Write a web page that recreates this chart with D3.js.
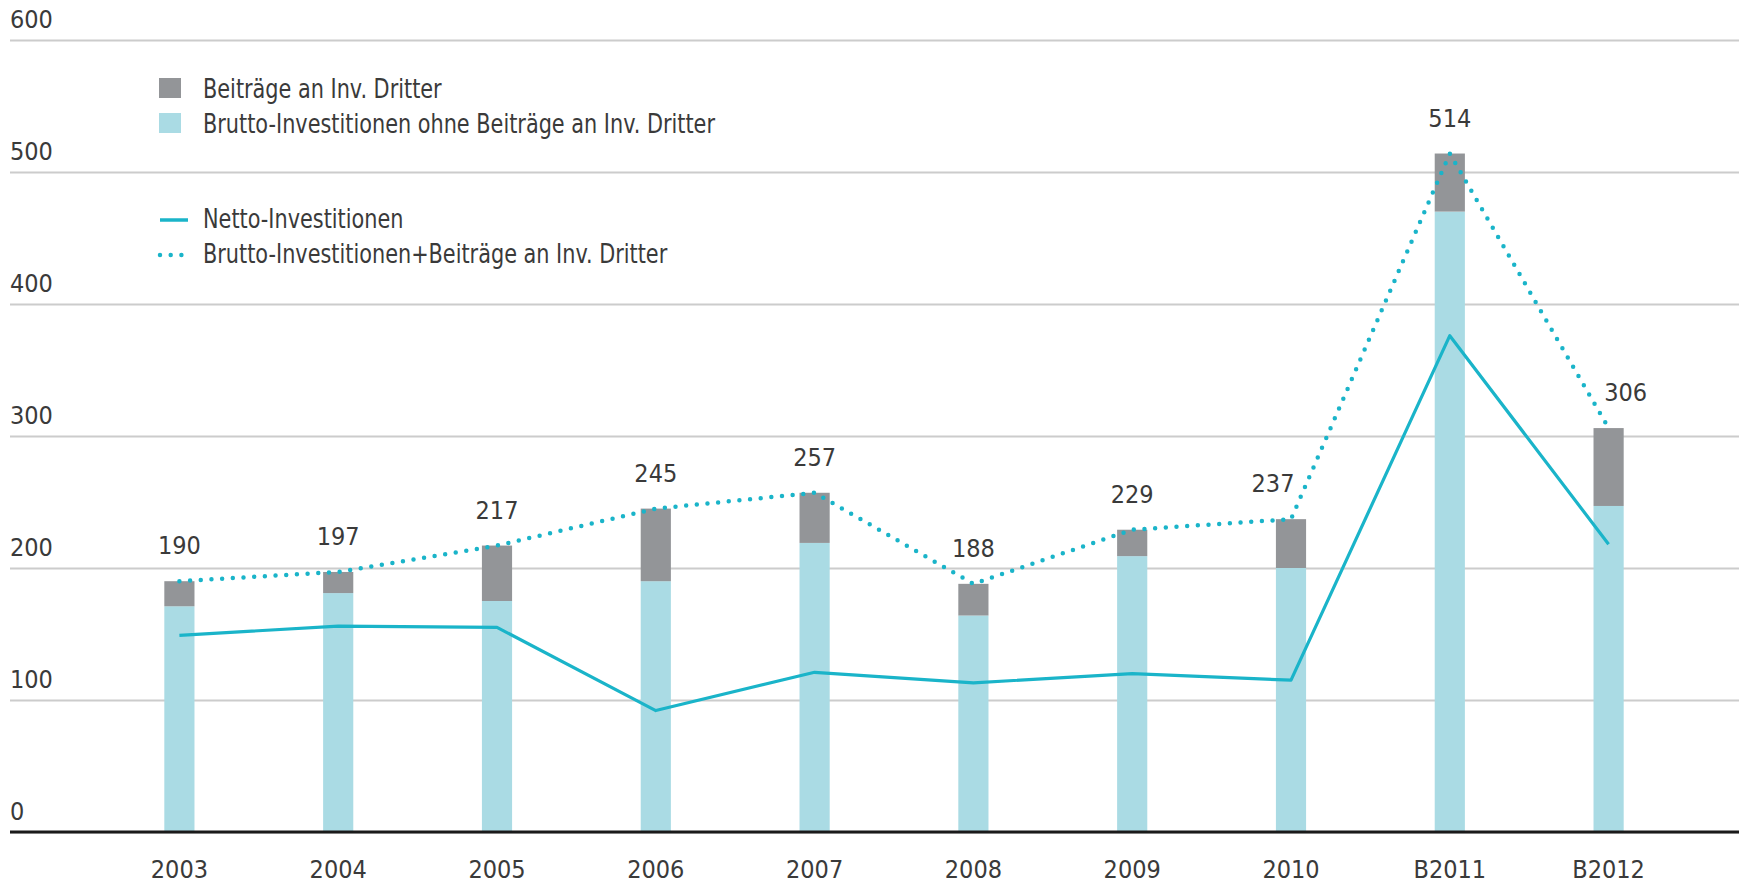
<!DOCTYPE html>
<html>
<head>
<meta charset="utf-8">
<script src="https://cdn.jsdelivr.net/npm/d3@7"></script>
<style>
  body { margin: 0; background: #fff; }
  svg { display: block; }
  text { font-family: "DejaVu Sans Condensed", "Liberation Sans Narrow", "Liberation Sans", sans-serif; fill: #3a3a3a; }
</style>
</head>
<body>
<div id="chart"></div>
<script>
const F_WIDTH = 1743;
const F_HEIGHT = 883;

// data
const YEARS = ["2003", "2004", "2005", "2006", "2007", "2008", "2009", "2010", "B2011", "B2012"];
const TOTALS = [190, 197, 217, 245, 257, 188, 229, 237, 514, 306];
const BRUTTO_OHNE = [171, 181, 175, 190, 219, 164, 209, 200, 470, 247];
const NETTO = [149, 156, 155, 92, 121, 113, 120, 115, 376, 218];
const Y_TICKS = [0, 100, 200, 300, 400, 500, 600];

const LEGEND_BARS = ["Beiträge an Inv. Dritter", "Brutto-Investitionen ohne Beiträge an Inv. Dritter"];
const LEGEND_LINES = ["Netto-Investitionen", "Brutto-Investitionen+Beiträge an Inv. Dritter"];

const C_GREY = "#939598";
const C_LIGHT = "#aadbe4";
const C_LINE = "#1ab4c9";

const FRAME = d3.select("#chart")
  .append("svg")
    .attr("width", F_WIDTH)
    .attr("height", F_HEIGHT);

const X_SCALE = d3.scaleBand()
  .domain(YEARS)
  .range([100, 1688])
  .paddingInner(0.81)
  .paddingOuter(0.405);

const Y_SCALE = d3.scaleLinear()
  .domain([0, 600])
  .range([832, 40]);

const cx = (d) => X_SCALE(d) + X_SCALE.bandwidth() / 2;

// gridlines + y labels
const yAxis = FRAME.append("g")
  .attr("transform", "translate(10,0)")
  .call(d3.axisRight(Y_SCALE).tickValues(Y_TICKS).tickSize(1729).tickFormat(d3.format("d")));
yAxis.select(".domain").remove();
yAxis.selectAll(".tick line")
  .attr("stroke", "#cccccc")
  .attr("stroke-width", 2);
yAxis.selectAll(".tick text")
  .attr("x", 0)
  .attr("y", -13)
  .attr("dy", 0)
  .attr("text-anchor", "start")
  .attr("font-size", 25)
  .attr("font-family", null);

const data = YEARS.map((y, i) => ({year: y, total: TOTALS[i], brutto: BRUTTO_OHNE[i], netto: NETTO[i]}));

// stacked bars
FRAME.selectAll(".bar-light")
  .data(data)
  .enter()
  .append("rect")
    .attr("x", (d) => X_SCALE(d.year))
    .attr("y", (d) => Y_SCALE(d.brutto))
    .attr("width", X_SCALE.bandwidth())
    .attr("height", (d) => Y_SCALE(0) - Y_SCALE(d.brutto))
    .attr("fill", C_LIGHT);

FRAME.selectAll(".bar-grey")
  .data(data)
  .enter()
  .append("rect")
    .attr("x", (d) => X_SCALE(d.year))
    .attr("y", (d) => Y_SCALE(d.total))
    .attr("width", X_SCALE.bandwidth())
    .attr("height", (d) => Y_SCALE(d.brutto) - Y_SCALE(d.total))
    .attr("fill", C_GREY);

// baseline
FRAME.append("line")
  .attr("x1", 10).attr("x2", 1739)
  .attr("y1", Y_SCALE(0)).attr("y2", Y_SCALE(0))
  .attr("stroke", "#1a1a1a")
  .attr("stroke-width", 3);

// x axis labels
const xAxis = FRAME.append("g")
  .attr("transform", "translate(0," + Y_SCALE(0) + ")")
  .call(d3.axisBottom(X_SCALE).tickSize(0));
xAxis.select(".domain").remove();
xAxis.selectAll(".tick text")
  .attr("y", 46)
  .attr("dy", 0)
  .attr("font-size", 25)
  .attr("font-family", null);

// netto line
FRAME.append("path")
  .datum(data)
  .attr("fill", "none")
  .attr("stroke", C_LINE)
  .attr("stroke-width", 3.2)
  .attr("stroke-linejoin", "round")
  .attr("d", d3.line().x((d) => cx(d.year)).y((d) => Y_SCALE(d.netto)));

// total dotted line
FRAME.append("path")
  .datum(data)
  .attr("fill", "none")
  .attr("stroke", C_LINE)
  .attr("stroke-width", 4.5)
  .attr("stroke-linecap", "round")
  .attr("stroke-dasharray", "0 10.7")
  .attr("d", d3.line().x((d) => cx(d.year)).y((d) => Y_SCALE(d.total)));

// value labels
FRAME.selectAll(".val")
  .data(data)
  .enter()
  .append("text")
    .attr("x", (d) => cx(d.year) + (d.year === "2010" ? -18 : d.year === "B2012" ? 17 : 0))
    .attr("y", (d) => Y_SCALE(d.total) - 27)
    .attr("text-anchor", "middle")
    .attr("font-size", 25)
    .text((d) => d.total);

// legend (text squeezed a bit to match the narrow original face)
const legend = FRAME.append("g");
const barColors = [C_GREY, C_LIGHT];
LEGEND_BARS.forEach((t, i) => {
  const y = 98 + i * 35;
  legend.append("rect")
    .attr("x", 159).attr("y", y - 20)
    .attr("width", 22).attr("height", 20)
    .attr("fill", barColors[i]);
  legend.append("text")
    .attr("transform", "translate(203," + y + ") scale(0.89,1)")
    .attr("font-size", 26)
    .text(t);
});
LEGEND_LINES.forEach((t, i) => {
  const y = 228 + i * 35;
  legend.append("line")
    .attr("x1", 160).attr("x2", i === 0 ? 188 : 190)
    .attr("y1", y - 8).attr("y2", y - 8)
    .attr("stroke", C_LINE)
    .attr("stroke-width", i === 0 ? 3.5 : 4.5)
    .attr("stroke-linecap", i === 0 ? "butt" : "round")
    .attr("stroke-dasharray", i === 0 ? null : "0 10.7");
  legend.append("text")
    .attr("transform", "translate(203," + y + ") scale(0.89,1)")
    .attr("font-size", 26)
    .text(t);
});
</script>
</body>
</html>
